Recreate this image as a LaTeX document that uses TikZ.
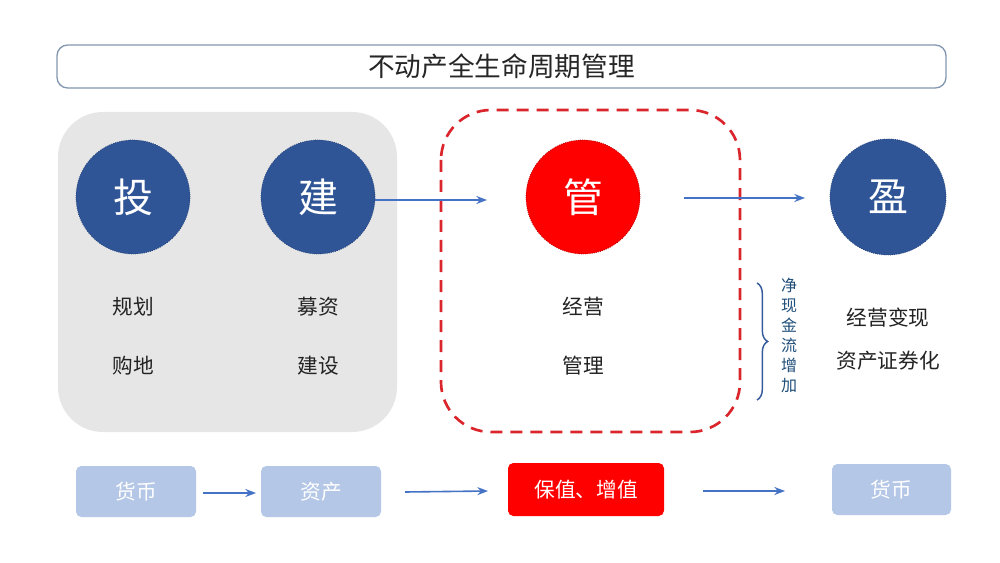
\documentclass[tikz,border=0pt]{standalone}
\usepackage{fontspec}
\setmainfont{Noto Sans CJK SC}
\usetikzlibrary{decorations.pathreplacing,arrows.meta}
\definecolor{cblue}{HTML}{2F5597}
\definecolor{ablue}{HTML}{4472C4}
\definecolor{lblue}{HTML}{B4C7E7}
\definecolor{cgray}{HTML}{E7E6E6}
\definecolor{dred}{HTML}{D9252B}
\definecolor{tborder}{HTML}{8497B0}
\definecolor{vtext}{HTML}{1F4E79}
\definecolor{btext}{HTML}{222222}
\tikzset{
  bigcirc/.style={circle,minimum size=114pt*0.75,inner sep=0pt,text=white,font=\fontsize{30}{32}\selectfont},
  bluecirc/.style={bigcirc,fill=cblue,draw=cblue!80!black,densely dotted,line width=0.6pt},
  lbl/.style={text=btext,font=\fontsize{15.5}{18}\selectfont,inner sep=0pt},
  flowbox/.style={rounded corners=4pt,fill=lblue,text=white,font=\fontsize{15.5}{18}\selectfont,minimum width=120*0.75pt,minimum height=51*0.75pt,inner sep=0pt},
  conn/.style={ablue,line width=1.2pt,-{Stealth[length=8pt,width=6pt]}},
}
\begin{document}
\begin{tikzpicture}[x=0.75pt,y=-0.75pt]
\useasboundingbox (0,0) rectangle (1000,563);
\fill[white] (0,0) rectangle (1000,563);
% title
\node[draw=tborder,line width=1pt,rounded corners=8pt,minimum width=889*0.75pt,minimum height=43*0.75pt,inner sep=0pt,font=\fontsize{20}{24}\selectfont,text=black!85] (title) at (501.5,66.5) {不动产全生命周期管理};
% gray group
\fill[cgray,rounded corners=45*0.75pt] (58,112) rectangle (397,432);
% dashed red group
\draw[dred,line width=2pt,dash pattern=on 9pt off 6pt,rounded corners=50*0.75pt] (441,110) rectangle (740,432);
% circles
\node[bluecirc] (tou) at (133,197) {投};
\node[bluecirc] (jian) at (318,197) {建};
\node[bigcirc,fill=red,draw=red!70!black,densely dotted,line width=0.6pt] (guan) at (583,197) {管};
\node[bluecirc,minimum size=116*0.75pt] (ying) at (888,197) {盈};
\coordinate (g1) at (487,200);
\coordinate (g2) at (684,198);
\coordinate (y1) at (805,198);
\draw[conn] (jian.east |- g1) -- (g1);
\draw[conn] (g2) -- (y1);
% labels
\node[lbl] (l1) at (133,307) {规划};
\node[lbl] (l2) at (133,366) {购地};
\node[lbl] (l3) at (318,307) {募资};
\node[lbl] (l4) at (318,366) {建设};
\node[lbl] (l5) at (583,307) {经营};
\node[lbl] (l6) at (583,366) {管理};
\node[lbl] (l7) at (888,318) {经营变现};
\node[lbl] (l8) at (888,361) {资产证券化};
% brace
\coordinate (bt) at (757,283);
\coordinate (bb) at (757,400);
\draw[ablue!80!black,line width=1.1pt,decorate,decoration={brace,amplitude=8pt}] (bt) -- (bb);
\node[text=vtext,font=\fontsize{12}{15}\selectfont,align=center,inner sep=0pt] (vt) at (789,335) {净\\现\\金\\流\\增\\加};
% bottom flow
\node[flowbox] (b1) at (136,491.5) {货币};
\node[flowbox] (b2) at (321,491.5) {资产};
\node[flowbox,fill=red,minimum width=156*0.75pt,minimum height=53*0.75pt] (b3) at (586,489.5) {保值、增值};
\node[flowbox,minimum width=119*0.75pt] (b4) at (891.5,489.5) {货币};
\coordinate (c1) at (203,493);
\coordinate (c1e) at (256,493);
\coordinate (c2) at (405,492);
\coordinate (c2e) at (488,491);
\coordinate (c3) at (703,491);
\coordinate (c3e) at (785,491);
\draw[conn] (c1) -- (c1e);
\draw[conn] (c2) -- (c2e);
\draw[conn] (c3) -- (c3e);
\end{tikzpicture}
\end{document}
